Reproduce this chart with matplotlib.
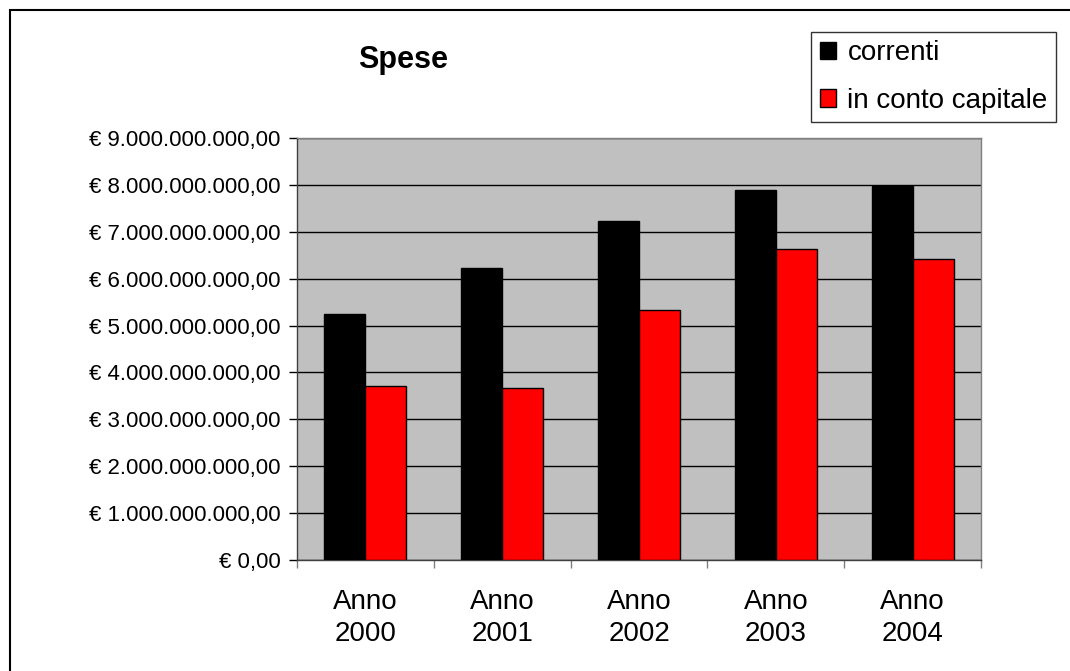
import matplotlib
matplotlib.use("Agg")
import matplotlib.pyplot as plt
import numpy as np
from matplotlib.patches import Rectangle
from matplotlib.ticker import FuncFormatter, MultipleLocator

plt.rcParams['font.family'] = ['Liberation Sans', 'DejaVu Sans']

anni = ["Anno\n2000", "Anno\n2001", "Anno\n2002", "Anno\n2003", "Anno\n2004"]
correnti = [5.24e9, 6.23e9, 7.24e9, 7.90e9, 7.97e9]
conto_capitale = [3.71e9, 3.67e9, 5.34e9, 6.63e9, 6.41e9]


def euro(v, pos=None):
    # formato italiano: punto per le migliaia, virgola per i decimali
    s = f"{v:,.2f}".replace(",", "X").replace(".", ",").replace("X", ".")
    return "€ " + s


W, H = 1070, 671
fig = plt.figure(figsize=(W / 100, H / 100), dpi=100)
ax = fig.add_axes([297 / W, 1 - 560 / H, (981 - 297) / W, (560 - 138) / H])
ax.set_facecolor("#C0C0C0")

x = np.arange(len(anni))
bw = 0.3
b1 = ax.bar(x - bw / 2, correnti, bw, color="black", edgecolor="black",
            linewidth=1, label="correnti", zorder=3)
b2 = ax.bar(x + bw / 2, conto_capitale, bw, color="#FF0000", edgecolor="black",
            linewidth=1, label="in conto capitale", zorder=3)

ax.set_xlim(-0.5, len(anni) - 0.5)
ax.set_ylim(0, 9e9)
ax.yaxis.set_major_locator(MultipleLocator(1e9))
ax.yaxis.set_major_formatter(FuncFormatter(euro))
ax.grid(axis="y", color="black", linewidth=1, zorder=1)

ax.set_xticks(x)
ax.set_xticklabels(anni, fontsize=20, linespacing=1.3)
ax.set_xticks(np.arange(len(anni) + 1) - 0.5, minor=True)
ax.tick_params(axis="x", which="major", length=0, pad=21)
ax.tick_params(axis="x", which="minor", length=6, color="#808080", width=1)
ax.tick_params(axis="y", length=6, width=1, pad=6, labelsize=16)

for side in ("top", "right"):
    ax.spines[side].set_color("#808080")
for side in ("left", "bottom"):
    ax.spines[side].set_color("#404040")
for sp in ax.spines.values():
    sp.set_linewidth(1)

fig.text(403 / W, 1 - 60 / H, "Spese", fontsize=22, fontweight="bold",
         ha="center", va="center")

leg = fig.legend(handles=[b1, b2], loc="upper right",
                 bbox_to_anchor=(1056 / W, 1 - 32 / H), fontsize=20,
                 frameon=True, fancybox=False, edgecolor="black",
                 handlelength=0.6, handleheight=0.6, handletextpad=0.4,
                 borderpad=0.3, labelspacing=0.78, borderaxespad=0)
leg.get_frame().set_linewidth(1)

# cornice esterna del grafico
fig.patches.append(Rectangle((10 / W, -0.1), 1.2, 1.1 - 10 / H,
                             transform=fig.transFigure, fill=False,
                             edgecolor="black", linewidth=1.5))

fig.savefig("out.png", dpi=100)
